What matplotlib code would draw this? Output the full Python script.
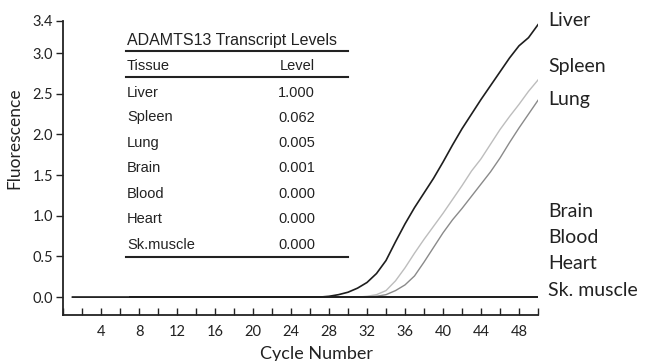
import matplotlib
matplotlib.use("Agg")
import matplotlib.pyplot as plt
import numpy as np

cycles = list(range(1, 51))
liver = [0.0]*27 + [0.01, 0.03, 0.06, 0.11, 0.18, 0.29, 0.45, 0.68, 0.90, 1.10, 1.28, 1.46,
                    1.66, 1.87, 2.07, 2.25, 2.43, 2.60, 2.77, 2.94, 3.09, 3.19, 3.35]
spleen = [0.0]*31 + [0.01, 0.03, 0.08, 0.20, 0.36, 0.54, 0.71, 0.87, 1.03, 1.20, 1.37, 1.55,
                     1.70, 1.88, 2.06, 2.22, 2.37, 2.53, 2.67]
lung = [0.0]*32 + [0.01, 0.03, 0.08, 0.15, 0.26, 0.43, 0.61, 0.79, 0.95, 1.09, 1.24, 1.39,
                   1.54, 1.71, 1.90, 2.08, 2.25, 2.42]
neg_cycles = list(range(7, 51))
brain = [0.0]*44
blood = [0.0]*44
heart = [0.0]*44
skmuscle = [0.0]*44

table_title = "ADAMTS13 Transcript Levels"
tissues = ["Liver", "Spleen", "Lung", "Brain", "Blood", "Heart", "Sk.muscle"]
levels = ["1.000", "0.062", "0.005", "0.001", "0.000", "0.000", "0.000"]
curve_labels = ["Liver", "Spleen", "Lung", "Brain", "Blood", "Heart", "Sk. muscle"]

W, H = 645, 361
fig = plt.figure(figsize=(W/100, H/100), dpi=100)
L, R, T, B = 63, 538, 20.6, 315
ax = fig.add_axes([L/W, 1-B/H, (R-L)/W, (B-T)/H])

ax.plot(cycles, spleen, color="#bdbdbd", lw=1.0)
ax.plot(cycles, lung, color="#8a8a8a", lw=1.0)
for s in [brain, blood, heart, skmuscle]:
    ax.plot(neg_cycles, s, color="#222222", lw=1.2)
ax.plot(cycles, liver, color="#1e1e1e", lw=1.2)

ax.set_xlim(0, 50)
ax.set_ylim(-0.22, 3.4)
for sp in ["top", "right"]:
    ax.spines[sp].set_visible(False)
for sp in ["left", "bottom"]:
    ax.spines[sp].set_linewidth(1.3)
    ax.spines[sp].set_color("#222222")

ax.set_xticks(list(range(4, 49, 4)))
ax.set_xticks(list(range(0, 51, 2)), minor=True)
ax.tick_params(axis="x", which="both", direction="in", length=5, width=1, color="#222222",
               labelsize=10.5, pad=7)
ax.set_yticks([0.0, 0.5, 1.0, 1.5, 2.0, 2.5, 3.0, 3.4])
ax.set_yticklabels(["0.0", "0.5", "1.0", "1.5", "2.0", "2.5", "3.0", "3.4"])
ax.tick_params(axis="y", direction="out", length=5, width=1, color="#222222",
               labelsize=10.5, pad=2)
for lab in ax.get_xticklabels() + ax.get_yticklabels():
    lab.set_fontfamily("Lato")
    lab.set_color("#222222")

def fx(px):
    return px / W
def fy(py):
    return 1 - py / H

fig.text(fx(316), fy(354), "Cycle Number", fontsize=13, family="Lato", color="#222222",
         ha="center", va="center")
fig.text(fx(14), fy(138), "Fluorescence", fontsize=12.5, family="Lato", color="#222222",
         ha="center", va="center", rotation=90)

# table
tf = "Liberation Sans"
fig.text(fx(127), fy(40), table_title, fontsize=11.5, family=tf, va="center", ha="left", color="#222222")
fig.text(fx(127), fy(66), "Tissue", fontsize=10.5, family=tf, va="center", ha="left", color="#222222")
fig.text(fx(315), fy(66), "Level", fontsize=10.5, family=tf, va="center", ha="right", color="#222222")
row_y = [93.3, 117.5, 142.7, 168.3, 194, 219.3, 245]
for t, lv, y in zip(tissues, levels, row_y):
    fig.text(fx(127), fy(y), t, fontsize=10.5, family=tf, va="center", ha="left", color="#222222")
    fig.text(fx(315), fy(y), lv, fontsize=10.5, family=tf, va="center", ha="right", color="#222222")
for y in [50.7, 76.7, 256.7]:
    fig.add_artist(plt.Line2D([fx(126), fx(348)], [fy(y), fy(y)], color="#222222", lw=1.5))

label_y = [20, 66.7, 99, 211.7, 237.3, 263.3, 290]
for t, y in zip(curve_labels, label_y):
    fig.text(fx(548), fy(y), t, fontsize=14, family="Lato", va="center", ha="left", color="#222222")

fig.savefig("out.png", dpi=100)
